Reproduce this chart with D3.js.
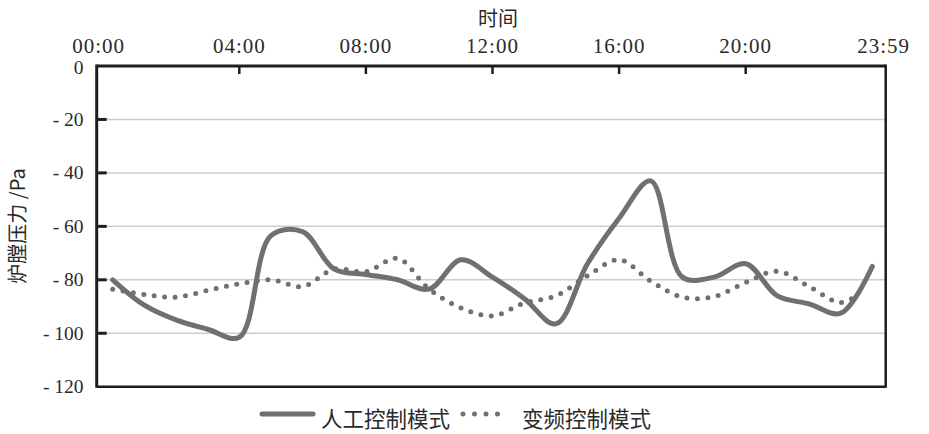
<!DOCTYPE html>
<html>
<head>
<meta charset="utf-8">
<script src="https://cdn.jsdelivr.net/npm/d3@7"></script>
<style>
  html, body { margin: 0; padding: 0; background: #fff; }
  svg { display: block; }
</style>
</head>
<body>
<svg id="chart" width="929" height="434"></svg>
<script>
// ---- data ----
const manualHours = [0,1,2,3,4,5,6,7,8,9,10,11,12,13,14,15,16,17,18,19,20,21,22,23,24];
const manualValues = [-80,-89.5,-95,-98.5,-101.5,-63.5,-62,-76,-78,-80,-83.5,-72.5,-79,-87,-96.5,-74,-57,-43,-79,-79,-74,-86,-89,-92.5,-75];
const vfdHours = [0,1,2,3,4,5,6,7,8,9,10,11,12,13,14,15,16,17,18,19,20,21,22,23,23.6];
const vfdValues = [-83.5,-85.5,-86.5,-84,-81.5,-80,-82.5,-76,-77,-72,-83.5,-90.5,-93.5,-88.7,-86,-78.5,-72.5,-80.5,-86.5,-86.3,-81,-76.8,-82.5,-88.5,-85];
const xTickHours = [4, 8, 12, 16, 20];
const xTickLabels = ["04:00", "08:00", "12:00", "16:00", "20:00"];
const xEndLabels = ["00:00", "23:59"];
const yTicks = [0, -20, -40, -60, -80, -100, -120];
const xTitle = "时间";
const yTitle = "炉膛压力 /Pa";
const seriesNames = ["人工控制模式", "变频控制模式"];

// ---- layout ----
const frame = { left: 96.7, right: 885.7, top: 66, bottom: 386.7 };
const svg = d3.select("#chart");
const x = d3.scaleLinear().domain([0, 24]).range([112.7, 872.3]);
const y = d3.scaleLinear().domain([-120, 0]).range([frame.bottom, frame.top]);
const lineColor = "#707070";
const textColor = "#2a2a2a";
const serifFont = "Liberation Serif, Tinos, DejaVu Serif, Noto Serif, Times New Roman, serif";
const cjkFont = "Noto Sans CJK SC, Noto Sans, sans-serif";

// gridlines
svg.append("g").selectAll("line")
  .data(yTicks.filter(v => v !== 0 && v !== -120))
  .join("line")
  .attr("x1", frame.left).attr("x2", frame.right)
  .attr("y1", d => y(d)).attr("y2", d => y(d))
  .attr("stroke", "#cdcdcd").attr("stroke-width", 1.5);

// lines
const mk = (hs, vs) => hs.map((h, i) => ({ h, v: vs[i] }));
const lineGen = d3.line().x(d => x(d.h)).y(d => y(d.v)).curve(d3.curveCatmullRom.alpha(0.5));

svg.append("path").datum(mk(vfdHours, vfdValues))
  .attr("d", lineGen).attr("fill", "none")
  .attr("stroke", lineColor).attr("stroke-width", 5)
  .attr("stroke-linecap", "round").attr("stroke-dasharray", "0 10.5");

svg.append("path").datum(mk(manualHours, manualValues))
  .attr("d", lineGen).attr("fill", "none")
  .attr("stroke", lineColor).attr("stroke-width", 5)
  .attr("stroke-linecap", "round").attr("stroke-linejoin", "round");

// frame
const fg = svg.append("g").attr("stroke", "#1e1e1e").attr("fill", "none");
fg.append("line").attr("x1", frame.left).attr("x2", frame.right).attr("y1", frame.top).attr("y2", frame.top).attr("stroke-width", 3);
fg.append("line").attr("x1", frame.left).attr("x2", frame.left).attr("y1", frame.top - 1.5).attr("y2", frame.bottom + 1).attr("stroke-width", 3);
fg.append("line").attr("x1", frame.right).attr("x2", frame.right).attr("y1", frame.top - 1.5).attr("y2", frame.bottom + 1).attr("stroke-width", 2.5);
fg.append("line").attr("x1", frame.left).attr("x2", frame.right).attr("y1", frame.bottom).attr("y2", frame.bottom).attr("stroke-width", 2.5);

// top axis ticks
svg.append("g").selectAll("line").data(xTickHours).join("line")
  .attr("x1", d => x(d)).attr("x2", d => x(d))
  .attr("y1", frame.top).attr("y2", frame.top + 8)
  .attr("stroke", "#1e1e1e").attr("stroke-width", 2.5);

// left axis ticks
svg.append("g").selectAll("line").data(yTicks.filter(v => v !== 0 && v !== -120)).join("line")
  .attr("x1", frame.left).attr("x2", frame.left + 10)
  .attr("y1", d => y(d)).attr("y2", d => y(d))
  .attr("stroke", "#1e1e1e").attr("stroke-width", 3);

// top labels
const xl = svg.append("g").style("font-family", serifFont).style("font-size", "21px")
  .attr("fill", textColor).attr("text-anchor", "middle").style("letter-spacing", "1px");
xl.selectAll("text.tick").data(xTickHours).join("text").attr("class", "tick")
  .style("font-family", serifFont)
  .attr("x", d => x(d)).attr("y", 52.5)
  .text((d, i) => xTickLabels[i]);
xl.append("text").style("font-family", serifFont).attr("x", frame.left + 2).attr("y", 52.5).text(xEndLabels[0]);
xl.append("text").style("font-family", serifFont).attr("x", frame.right - 2).attr("y", 52.5).text(xEndLabels[1]);

// y labels
svg.append("g").style("font-size", "19.5px").attr("fill", textColor)
  .attr("text-anchor", "end").selectAll("text").data(yTicks).join("text")
  .style("font-family", serifFont)
  .attr("x", 83.5).attr("y", d => y(d)).attr("dy", d => d === 0 ? "0.4em" : "0.33em")
  .text(d => d === 0 ? "0" : "- " + Math.abs(d));

// titles
svg.append("text").style("font-family", cjkFont).attr("x", 498).attr("y", 17).attr("dominant-baseline", "central")
  .attr("text-anchor", "middle").style("font-size", "20px")
  .attr("fill", textColor).text(xTitle);
svg.append("text").style("font-family", cjkFont).attr("transform", "translate(16,226) rotate(-90)")
  .attr("dominant-baseline", "central").attr("text-anchor", "middle")
  .style("font-size", "20px").attr("fill", textColor).text(yTitle);

// legend
const lg = svg.append("g");
lg.append("line").attr("x1", 262).attr("x2", 313).attr("y1", 414).attr("y2", 414)
  .attr("stroke", lineColor).attr("stroke-width", 5).attr("stroke-linecap", "round");
lg.append("text").style("font-family", cjkFont).attr("x", 321).attr("y", 417).attr("dominant-baseline", "central")
  .style("font-size", "21.5px").attr("fill", textColor).text(seriesNames[0]);
lg.append("line").attr("x1", 463).attr("x2", 509).attr("y1", 414).attr("y2", 414)
  .attr("stroke", lineColor).attr("stroke-width", 5).attr("stroke-linecap", "round")
  .attr("stroke-dasharray", "0 11.5");
lg.append("text").style("font-family", cjkFont).attr("x", 522).attr("y", 417).attr("dominant-baseline", "central")
  .style("font-size", "21.5px").attr("fill", textColor).text(seriesNames[1]);
</script>
</body>
</html>
